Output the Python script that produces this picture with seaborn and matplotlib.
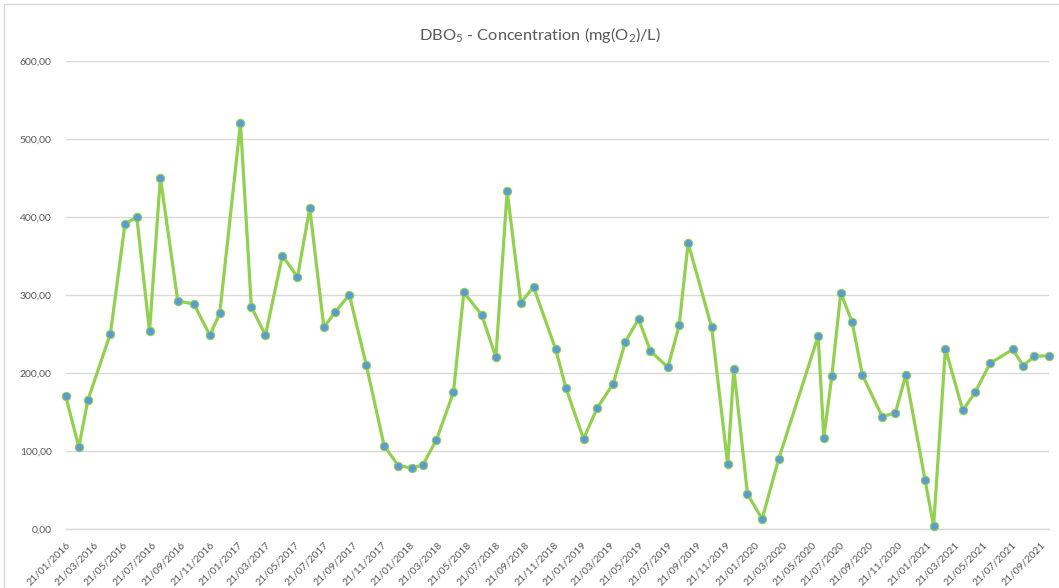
import matplotlib
matplotlib.use("Agg")
import matplotlib.pyplot as plt
import matplotlib.dates as mdates
from matplotlib.patches import Rectangle
from matplotlib.ticker import FuncFormatter, MultipleLocator
import numpy as np
import pandas as pd
import seaborn as sns

# Sampling dates and BOD5 concentrations (mg O2 / L)
sample_dates = [
    "2016-01-21", "2016-02-18", "2016-03-08", "2016-04-25", "2016-05-26",
    "2016-06-20", "2016-07-17", "2016-08-09", "2016-09-15", "2016-10-19",
    "2016-11-22", "2016-12-13", "2017-01-26", "2017-02-18", "2017-03-20",
    "2017-04-25", "2017-05-27", "2017-06-22", "2017-07-22", "2017-08-15",
    "2017-09-14", "2017-10-20", "2017-11-27", "2017-12-27", "2018-01-25",
    "2018-02-17", "2018-03-18", "2018-04-23", "2018-05-15", "2018-06-22",
    "2018-07-22", "2018-08-15", "2018-09-13", "2018-10-10", "2018-11-26",
    "2018-12-18", "2019-01-24", "2019-02-22", "2019-03-28", "2019-04-23",
    "2019-05-21", "2019-06-15", "2019-07-22", "2019-08-15", "2019-09-03",
    "2019-10-23", "2019-11-26", "2019-12-09", "2020-01-07", "2020-02-07",
    "2020-03-13", "2020-06-05", "2020-06-17", "2020-07-04", "2020-07-23",
    "2020-08-16", "2020-09-07", "2020-10-19", "2020-11-16", "2020-12-08",
    "2021-01-18", "2021-02-05", "2021-03-02", "2021-04-08", "2021-05-04",
    "2021-06-05", "2021-07-23", "2021-08-14", "2021-09-07", "2021-10-08",
]
dbo5_values = [
    170.5, 105.0, 165.0, 250.4, 391.5, 399.6, 253.4, 450.5, 292.3, 288.5,
    248.3, 276.5, 520.5, 285.0, 248.3, 350.4, 323.0, 411.5, 258.5, 278.2,
    300.4, 210.3, 106.4, 81.2, 78.2, 82.0, 114.5, 175.2, 303.4, 274.4,
    220.1, 433.3, 290.2, 310.3, 230.3, 180.3, 115.4, 155.1, 186.3, 240.2,
    269.2, 228.2, 207.3, 261.1, 366.7, 258.5, 82.9, 205.6, 44.9, 12.8,
    89.3, 247.4, 117.3, 196.2, 302.6, 265.4, 197.4, 144.0, 149.1, 197.4,
    62.4, 3.8, 231.2, 152.1, 175.2, 212.4, 230.3, 209.4, 221.4, 222.2,
]

axis_start = "2016-01-21"
tick_step_months = 2
y_ticks_max = 600
title_text = r"DBO$_5$ - Concentration (mg(O$_2$)/L)"

df = pd.DataFrame({"date": pd.to_datetime(sample_dates), "value": dbo5_values})

sns.set_theme(style="white")
plt.rcParams["font.family"] = ["Lato", "DejaVu Sans"]
plt.rcParams["mathtext.fontset"] = "custom"
plt.rcParams["mathtext.rm"] = "Lato"
plt.rcParams["mathtext.it"] = "Lato:italic"

text_grey = "#595959"
line_grey = "#D9D9D9"
line_green = "#92D050"
dot_blue = "#5B9BD5"

fig = plt.figure(figsize=(10.59, 5.88), dpi=100)
fig.patch.set_facecolor("white")
ax = fig.add_axes([0.0620, 0.1003, 0.9286, 0.7960])

sns.lineplot(
    data=df, x="date", y="value", ax=ax,
    color=line_green, linewidth=2.3,
    marker="o", markersize=6.0,
    markerfacecolor=dot_blue, markeredgecolor=line_green, markeredgewidth=0.8,
    clip_on=False, zorder=3,
)

# x axis: a tick every two months from the first sample date
start = pd.Timestamp(axis_start)
ticks = pd.date_range(start, df["date"].max(), freq=pd.DateOffset(months=tick_step_months))
ax.set_xlim(start, df["date"].max())
ax.set_xticks(ticks)
ax.xaxis.set_major_formatter(mdates.DateFormatter("%d/%m/%Y"))
plt.setp(ax.get_xticklabels(), rotation=45, ha="right", rotation_mode="anchor")

# y axis: 0 to 600 with comma decimals
ax.set_ylim(0, y_ticks_max)
ax.yaxis.set_major_locator(MultipleLocator(100))
ax.yaxis.set_major_formatter(FuncFormatter(lambda v, _: f"{v:.2f}".replace(".", ",")))

ax.set_xlabel("")
ax.set_ylabel("")
ax.yaxis.grid(True, color=line_grey, linewidth=1.0)
ax.xaxis.grid(False)
for side in ("top", "right", "left"):
    ax.spines[side].set_visible(False)
ax.spines["bottom"].set_color(line_grey)
ax.spines["bottom"].set_linewidth(1.0)

ax.tick_params(axis="x", which="major", length=5, width=1, color=line_grey,
               direction="out", labelsize=7.5, labelcolor=text_grey, pad=3)
ax.tick_params(axis="y", which="major", length=0, labelsize=7.5,
               labelcolor=text_grey, pad=10)

fig.text(0.51, 0.94, title_text, ha="center", va="center",
         fontsize=11.8, color=text_grey)

# chart area frame
fig.patches.append(Rectangle((4 / 1059, -0.02), 1.1, 1.02 - 4 / 588,
                             transform=fig.transFigure, fill=False,
                             edgecolor=line_grey, linewidth=1.0, zorder=0))

fig.savefig("out.png", dpi=100)
